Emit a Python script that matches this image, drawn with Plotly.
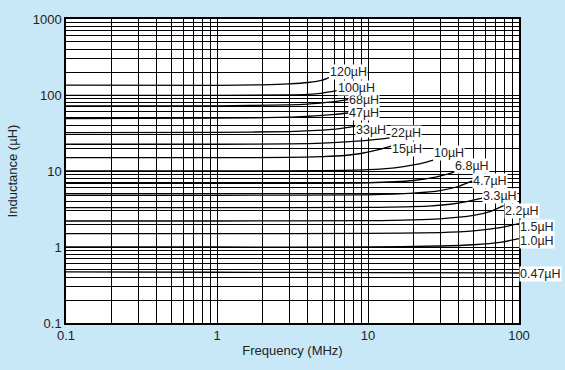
import math
import plotly.graph_objects as go

# Inductance vs frequency curves (MHz, uH)
labels = ["120µH", "100µH", "68µH", "47µH", "33µH", "22µH", "15µH", "10µH",
          "6.8µH", "4.7µH", "3.3µH", "2.2µH", "1.5µH", "1.0µH", "0.47µH"]

freq_120 = [0.1, 1, 2, 3, 4, 5, 5.5]
ind_120 = [135, 134, 136, 140, 146, 157, 169]
freq_100 = [0.1, 1, 3, 4, 5, 6.2]
ind_100 = [99, 99, 100, 102, 106, 114]
freq_68 = [0.1, 1, 3, 4, 5, 6, 7.4]
ind_68 = [72, 72, 74, 76, 79, 82, 87]
freq_47 = [0.1, 1, 3, 4, 5, 6, 7.4]
ind_47 = [49, 49.5, 51, 52.5, 54, 55.5, 58]
freq_33 = [0.1, 1, 3, 5, 6, 7, 8.2]
ind_33 = [32, 32.3, 33, 34.5, 35.5, 37, 38.7]
freq_22 = [0.1, 1, 3, 5, 8, 11, 13.9]
ind_22 = [22.5, 22.5, 22.8, 23.3, 24.5, 25.8, 27.2]
freq_15 = [0.1, 1, 3, 5, 7, 9, 11, 12.5, 14.2]
ind_15 = [15, 15, 15.1, 15.5, 16, 17, 18.5, 19.7, 21.2]
freq_10 = [0.1, 1, 5, 10, 15, 20, 24, 27]
ind_10 = [10, 10, 10.1, 10.4, 11, 12, 13, 13.9]
freq_6_8 = [0.1, 1, 10, 20, 28, 33, 37]
ind_6_8 = [6.9, 6.9, 7.0, 7.5, 8.3, 9.0, 9.7]
freq_4_7 = [0.1, 1, 10, 20, 30, 40, 49]
ind_4_7 = [4.8, 4.8, 4.85, 5.1, 5.5, 6.3, 7.4]
freq_3_3 = [0.1, 1, 10, 25, 35, 45, 57]
ind_3_3 = [3.3, 3.3, 3.32, 3.45, 3.65, 3.95, 4.4]
freq_2_2 = [0.1, 1, 10, 30, 50, 65, 79]
ind_2_2 = [2.2, 2.2, 2.22, 2.35, 2.6, 2.95, 3.5]
freq_1_5 = [0.1, 1, 10, 30, 50, 75, 100]
ind_1_5 = [1.5, 1.5, 1.51, 1.55, 1.63, 1.8, 2.03]
freq_1_0 = [0.1, 1, 10, 30, 50, 75, 100]
ind_1_0 = [1.0, 1.0, 1.0, 1.03, 1.07, 1.15, 1.29]
freq_0_47 = [0.1, 1, 10, 100]
ind_0_47 = [0.47, 0.465, 0.46, 0.455]

curves = [
    (freq_120, ind_120), (freq_100, ind_100), (freq_68, ind_68),
    (freq_47, ind_47), (freq_33, ind_33), (freq_22, ind_22),
    (freq_15, ind_15), (freq_10, ind_10), (freq_6_8, ind_6_8),
    (freq_4_7, ind_4_7), (freq_3_3, ind_3_3), (freq_2_2, ind_2_2),
    (freq_1_5, ind_1_5), (freq_1_0, ind_1_0), (freq_0_47, ind_0_47),
]

# vertical nudge of each label (px)
label_dy = [6, 3, 0, 0, -4, 5, -3, 7, 6, 0, 2, -5, -3, -2, -1]

x_decades = [0.1, 1, 10, 100]
y_decades = [0.1, 1, 10, 100, 1000]


def log_grid(decades):
    vals, text = [], []
    for d in decades[:-1]:
        for m in range(1, 10):
            vals.append(round(d * m, 6))
            text.append(f"{d:g}" if m == 1 else "")
    vals.append(decades[-1])
    text.append(f"{decades[-1]:g}")
    return vals, text


xvals, xtext = log_grid(x_decades)
yvals, ytext = log_grid(y_decades)

font = "Liberation Sans, Arial, sans-serif"

fig = go.Figure()
for (f, l) in curves:
    fig.add_trace(go.Scatter(
        x=f, y=l, mode="lines",
        line=dict(color="black", width=1.3, shape="spline", smoothing=0.6),
        showlegend=False, hoverinfo="skip",
    ))

# labels drawn bottom-up so the upper boxes sit on top
for (f, l), lab, dy in reversed(list(zip(curves, labels, label_dy))):
    # annotations on log axes take log10 coordinates
    fig.add_annotation(
        x=math.log10(f[-1]), y=math.log10(l[-1]), xref="x", yref="y",
        text=lab, showarrow=False,
        xanchor="left", yanchor="middle", xshift=0, yshift=dy,
        bgcolor="white", borderpad=0,
        font=dict(family=font, size=12.5, color="#222"),
    )

axis_common = dict(
    type="log", showgrid=True, gridcolor="black", gridwidth=1,
    showline=True, linecolor="black", linewidth=1.5, mirror=True,
    ticks="", zeroline=False,
    tickfont=dict(family=font, size=13, color="#222"),
)

fig.update_xaxes(
    **axis_common, range=[-1, 2], tickmode="array",
    tickvals=xvals, ticktext=xtext,
    title=dict(text="Frequency (MHz)", font=dict(family=font, size=13, color="#222"),
               standoff=4),
)
fig.update_yaxes(
    **axis_common, range=[-1, 3], tickmode="array",
    tickvals=yvals, ticktext=ytext,
    title=dict(text="Inductance (µH)", font=dict(family=font, size=13, color="#222"),
               standoff=12),
)

fig.update_layout(
    width=565, height=370,
    paper_bgcolor="#C8E8F8", plot_bgcolor="white",
    margin=dict(l=62, r=46, t=16, b=47),
)

fig.write_html(
    "out.html",
    config={"displayModeBar": False},
    post_script="document.body.style.margin='0';document.body.style.background='#C8E8F8';",
)
